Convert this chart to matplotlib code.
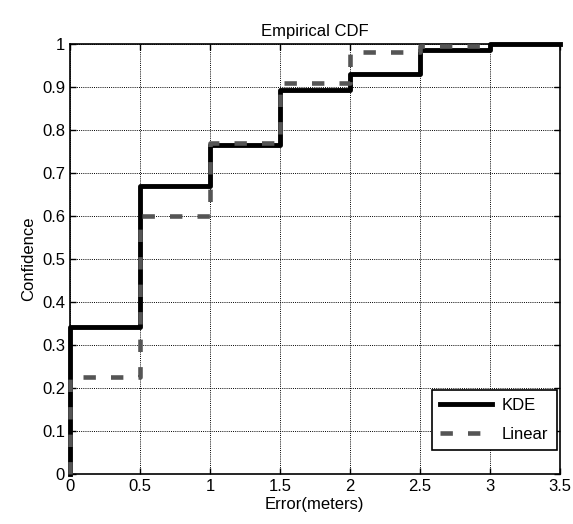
import matplotlib
matplotlib.use("Agg")
from matplotlib import pyplot as plt
import numpy as np

plt.rcParams['font.family'] = ['Liberation Sans Narrow', 'Liberation Sans', 'DejaVu Sans']

# step points of the empirical CDFs
kde_x = [0, 0, 0.5, 1.0, 1.5, 2.0, 2.5, 3.0, 3.5]
kde_y = [0, 0.342, 0.67, 0.765, 0.893, 0.93, 0.985, 1.0, 1.0]
lin_x = [0, 0, 0.5, 1.0, 1.5, 2.0, 2.5, 3.0]
lin_y = [0, 0.225, 0.60, 0.77, 0.91, 0.982, 0.996, 0.996]

xticks = [0, 0.5, 1, 1.5, 2, 2.5, 3, 3.5]
xlabels = ['0', '0.5', '1', '1.5', '2', '2.5', '3', '3.5']
yticks = [0, 0.1, 0.2, 0.3, 0.4, 0.5, 0.6, 0.7, 0.8, 0.9, 1]
ylabels = ['0', '0.1', '0.2', '0.3', '0.4', '0.5', '0.6', '0.7', '0.8', '0.9', '1']

fig = plt.figure(figsize=(5.73, 5.24), dpi=100)
ax = fig.add_axes([0.122, 0.0954, 0.855, 0.8206])

ax.step(kde_x, kde_y, where='post', color='black', lw=3.5, label='KDE', zorder=3, clip_on=False)
ax.step(lin_x, lin_y, where='post', color='#555555', lw=3.3, dashes=(2.7, 3.3), label='Linear',
        zorder=4, clip_on=False)

ax.set_xlim(0, 3.5)
ax.set_ylim(0, 1)
ax.set_xticks(xticks)
ax.set_xticklabels(xlabels)
ax.set_yticks(yticks)
ax.set_yticklabels(ylabels)
ax.tick_params(direction='in', top=True, right=True, labelsize=12, length=4, width=1)
ax.grid(True, linestyle=(0, (1, 1.2)), color='black', lw=0.7)
for s in ax.spines.values():
    s.set_linewidth(1.2)

ax.set_title('Empirical CDF', fontsize=12)
ax.set_xlabel('Error(meters)', fontsize=12, labelpad=2)
ax.set_ylabel('Confidence', fontsize=12)

leg = ax.legend(loc='lower right', bbox_to_anchor=(0.994, 0.056), fontsize=12, fancybox=False,
                framealpha=1, edgecolor='black', handlelength=3.1, borderaxespad=0,
                labelspacing=0.8, borderpad=0.5, handletextpad=0.6)
leg.get_frame().set_linewidth(1.2)

plt.savefig('out.png', dpi=100)
